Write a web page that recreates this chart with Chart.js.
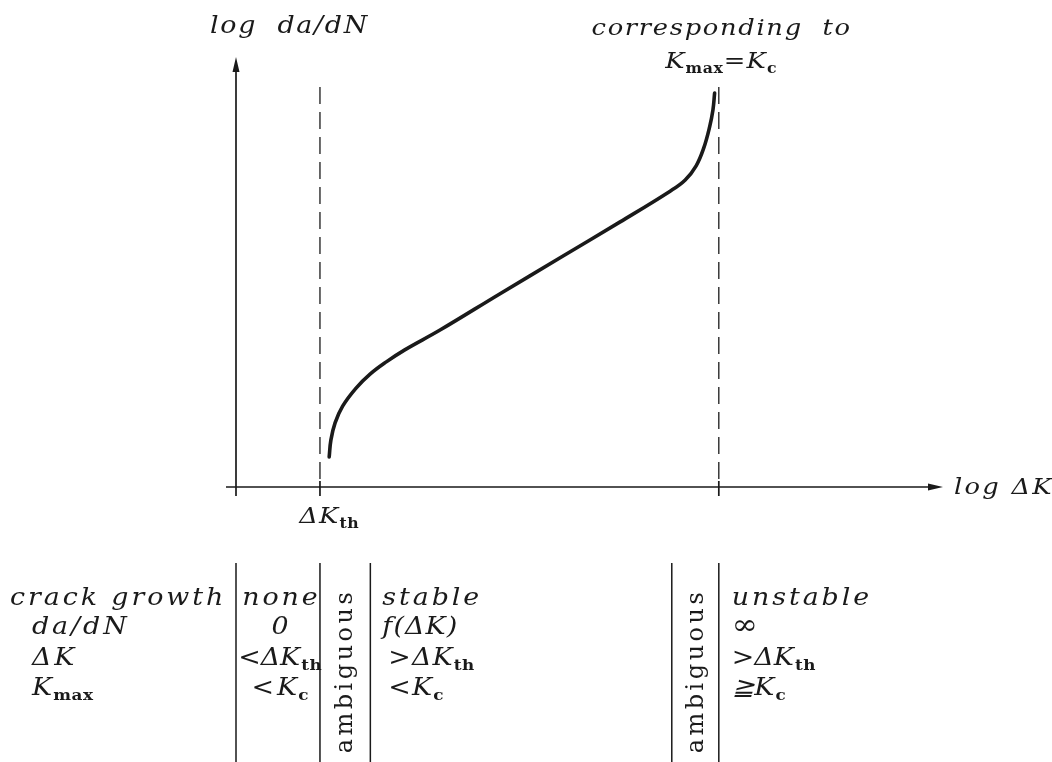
<!DOCTYPE html>
<html>
<head>
<meta charset="utf-8">
<script src="https://cdn.jsdelivr.net/npm/chart.js@4.4.0/dist/chart.umd.min.js"></script>
<style>
  html, body { margin: 0; padding: 0; background: #fff; }
  #wrap { width: 1052px; height: 762px; }
</style>
</head>
<body>
<div id="wrap"><canvas id="mainChart" width="1052" height="762"></canvas></div>
<script>
// fatigue crack growth curve, both axes in arbitrary log units
var logDK   = [1.11, 1.13, 1.18, 1.27, 1.43, 1.60, 1.79, 2.01, 2.43, 3.14, 3.86, 4.57, 5.17, 5.35, 5.48, 5.57, 5.64, 5.68, 5.70];
var logDaDN = [0.70, 1.09, 1.49, 1.88, 2.30, 2.63, 2.91, 3.19, 3.65, 4.49, 5.33, 6.16, 6.88, 7.14, 7.47, 7.88, 8.37, 8.77, 9.16];

var dKth = 1;        // threshold
var dKcrit = 5.75;   // Kmax = Kc
var boundTop = 9.3;

// regime table under the plot
var rowLabels   = ['crack growth', 'da/dN', 'ΔK', 'K_{max}'];
var noneCol     = ['none', '0', '<ΔK_{th}', '<K_{c}'];
var stableCol   = ['stable', 'f(ΔK)', '>ΔK_{th}', '<K_{c}'];
var unstableCol = ['unstable', '∞', '>ΔK_{th}', '≧K_{c}'];
var ambiguousText = 'ambiguous';
// column borders, in log ΔK units
var tableBorders = [0, dKth, 1.6, 5.19, dKcrit];

var ink = '#1a1a1a';
var serif = '"DejaVu Serif", "Liberation Serif", serif';
var stretch = 1.12;

function parts(s) {
  var out = [], re = /_\{([^}]*)\}/g, last = 0, m;
  while ((m = re.exec(s)) !== null) {
    if (m.index > last) out.push({ t: s.slice(last, m.index), sub: false });
    out.push({ t: m[1], sub: true });
    last = re.lastIndex;
  }
  if (last < s.length) out.push({ t: s.slice(last), sub: false });
  return out;
}

function setFont(ctx, p, size, spacing) {
  if (p.sub) {
    ctx.font = 'bold ' + Math.round(size * 0.62) + 'px ' + serif;
    ctx.letterSpacing = '0.5px';
  } else {
    ctx.font = 'italic ' + size + 'px ' + serif;
    ctx.letterSpacing = spacing + 'px';
  }
}

// width of a run, dropping the trailing letter spacing of each piece
function pieceWidth(ctx, p, size, spacing) {
  setFont(ctx, p, size, spacing);
  return ctx.measureText(p.t).width - (p.sub ? 0.5 : spacing);
}

function richWidth(ctx, s, size, spacing) {
  var w = 0, ps = parts(s);
  ps.forEach(function(p, i) {
    w += pieceWidth(ctx, p, size, spacing) + (i < ps.length - 1 ? 1 : 0);
  });
  return w * stretch;
}

function drawRich(ctx, s, x, y, size, spacing, align) {
  if (align === 'center') x -= richWidth(ctx, s, size, spacing) / 2;
  ctx.save();
  ctx.translate(x, y);
  ctx.scale(stretch, 1);
  ctx.textAlign = 'left';
  ctx.textBaseline = 'alphabetic';
  var cx = 0;
  parts(s).forEach(function(p) {
    setFont(ctx, p, size, spacing);
    ctx.fillText(p.t, cx, p.sub ? size * 0.2 : 0);
    cx += pieceWidth(ctx, p, size, spacing) + 1;
  });
  ctx.restore();
}

var axesPlugin = {
  id: 'axes',
  afterDraw: function(chart) {
    var ctx = chart.ctx, xs = chart.scales.x, ys = chart.scales.y;
    var x0 = xs.getPixelForValue(0), y0 = ys.getPixelForValue(0);
    var xEnd = xs.right, yEnd = ys.top;
    ctx.save();
    ctx.strokeStyle = ink;
    ctx.fillStyle = ink;
    ctx.lineWidth = 1.7;
    ctx.beginPath();
    ctx.moveTo(x0 - 10, y0);
    ctx.lineTo(xEnd - 8, y0);
    ctx.moveTo(x0, y0 + 9);
    ctx.lineTo(x0, yEnd + 8);
    [dKth, dKcrit].forEach(function(v) {
      var px = xs.getPixelForValue(v);
      ctx.moveTo(px, y0 - 6);
      ctx.lineTo(px, y0 + 9);
    });
    ctx.stroke();

    // arrow heads
    ctx.beginPath();
    ctx.moveTo(xEnd, y0);
    ctx.lineTo(xEnd - 15, y0 - 3.5);
    ctx.lineTo(xEnd - 15, y0 + 3.5);
    ctx.closePath();
    ctx.moveTo(x0, yEnd);
    ctx.lineTo(x0 - 3.5, yEnd + 15);
    ctx.lineTo(x0 + 3.5, yEnd + 15);
    ctx.closePath();
    ctx.fill();

    // axis titles and annotations
    var kc = xs.getPixelForValue(dKcrit);
    drawRich(ctx, 'log  da/dN', 210, 33, 24, 1.5, 'left');
    drawRich(ctx, 'corresponding  to', kc + 2, 35, 23, 1.5, 'center');
    drawRich(ctx, 'K_{max}=K_{c}', kc + 2, 68, 23, 1, 'center');
    drawRich(ctx, 'log ΔK', xEnd + 11, y0 + 7, 23, 2, 'left');
    drawRich(ctx, 'ΔK_{th}', xs.getPixelForValue(dKth) + 9, y0 + 36, 23, 1, 'center');

    // regime table
    var top = 563, bottom = chart.height;
    var bx = tableBorders.map(function(v) { return xs.getPixelForValue(v); });
    ctx.lineWidth = 1.5;
    ctx.beginPath();
    bx.forEach(function(px) {
      ctx.moveTo(px, top);
      ctx.lineTo(px, bottom);
    });
    ctx.stroke();

    var rowY = [605, 634, 665, 695];
    var size = 24, sp = 2.6;
    rowLabels.forEach(function(s, i) {
      drawRich(ctx, s, i === 0 ? 10 : 32, rowY[i], size, sp, 'left');
    });
    noneCol.forEach(function(s, i) {
      drawRich(ctx, s, (bx[0] + bx[1]) / 2 + 2, rowY[i], size, i === 2 ? 0 : sp, 'center');
    });
    stableCol.forEach(function(s, i) {
      drawRich(ctx, s, bx[2] + (i < 2 ? 12 : 18), rowY[i], size, i >= 1 ? 1 : sp, 'left');
    });
    unstableCol.forEach(function(s, i) {
      drawRich(ctx, s, bx[4] + 13, rowY[i], i === 1 ? 28 : size, i >= 1 ? 0 : sp, 'left');
    });

    [[bx[1], bx[2]], [bx[3], bx[4]]].forEach(function(pair) {
      ctx.save();
      ctx.translate((pair[0] + pair[1]) / 2 + 1, 671);
      ctx.rotate(-Math.PI / 2);
      ctx.font = '24px ' + serif;
      ctx.letterSpacing = '3.5px';
      ctx.textAlign = 'center';
      ctx.textBaseline = 'middle';
      ctx.fillText(ambiguousText, 0, 0);
      ctx.restore();
    });
    ctx.restore();
  }
};

var curve = logDK.map(function(x, i) { return { x: x, y: logDaDN[i] }; });

new Chart(document.getElementById('mainChart').getContext('2d'), {
  type: 'line',
  data: {
    datasets: [
      {
        data: curve, borderColor: ink, borderWidth: 3.6,
        tension: 0.4, borderCapStyle: 'round', pointRadius: 0
      },
      {
        data: [{ x: dKth, y: boundTop }, { x: dKth, y: 0 }],
        borderColor: ink, borderWidth: 1.3, borderDash: [17, 8], pointRadius: 0, tension: 0
      },
      {
        data: [{ x: dKcrit, y: boundTop }, { x: dKcrit, y: 0 }],
        borderColor: ink, borderWidth: 1.3, borderDash: [17, 8], pointRadius: 0, tension: 0
      }
    ]
  },
  options: {
    responsive: false,
    animation: false,
    layout: { padding: { left: 236, right: 109, top: 57, bottom: 275 } },
    plugins: { legend: { display: false }, tooltip: { enabled: false } },
    scales: {
      x: { type: 'linear', min: 0, max: 8.42, display: false },
      y: { type: 'linear', min: 0, max: 10, display: false }
    }
  },
  plugins: [axesPlugin]
});
</script>
</body>
</html>
